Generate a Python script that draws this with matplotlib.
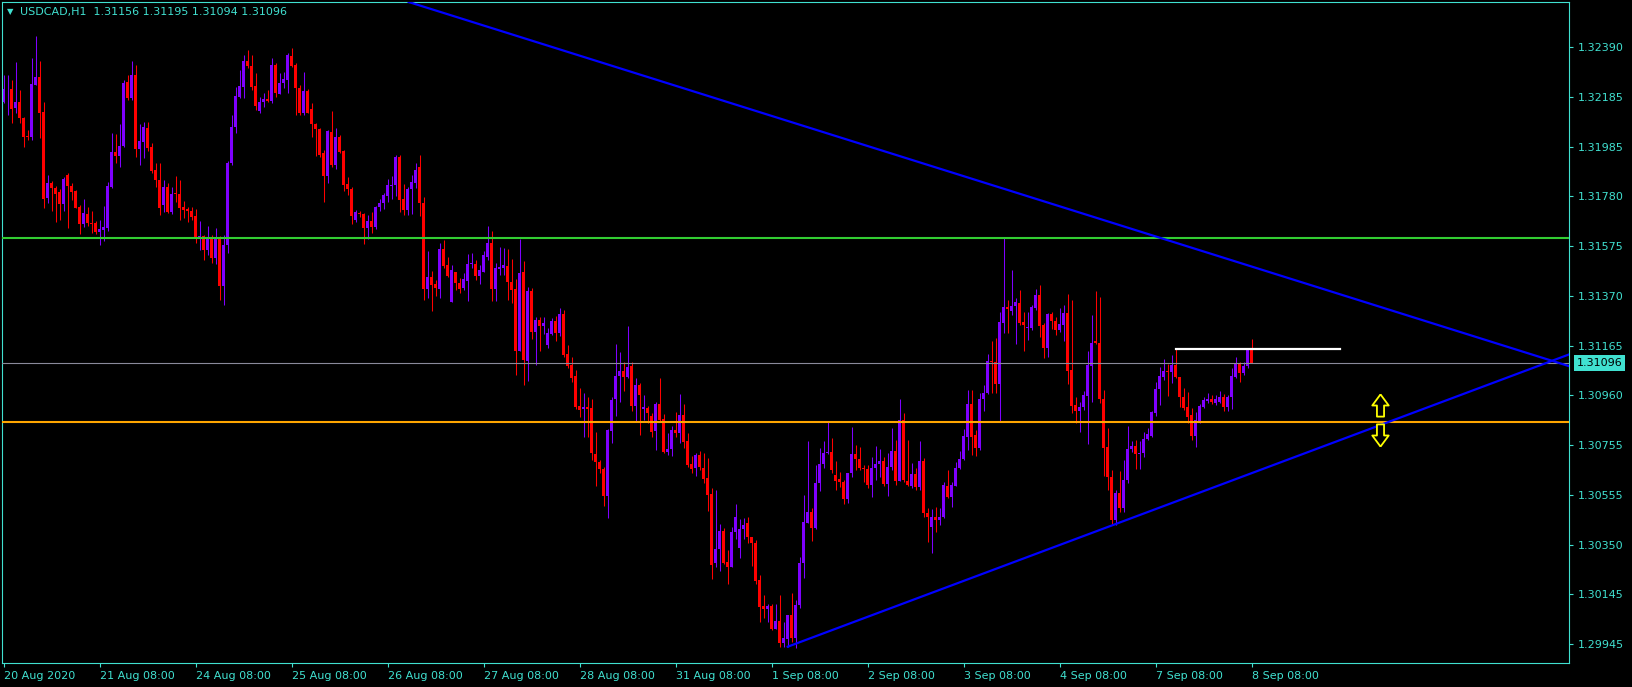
import numpy as np
import matplotlib
matplotlib.use("Agg")
import matplotlib.pyplot as plt
from matplotlib.path import Path

# USDCAD H1, 20 Aug 2020 08:00 .. 8 Sep 2020 08:00 (one value per hourly bar)
opens = [
    1.32166, 1.32217, 1.32220, 1.32141, 1.32166, 1.32100, 1.32026, 1.32021, 1.32234, 1.32266,
    1.32123, 1.31773, 1.31833, 1.31814, 1.31797, 1.31748, 1.31866, 1.31821, 1.31800, 1.31735,
    1.31666, 1.31706, 1.31669, 1.31669, 1.31634, 1.31641, 1.31650, 1.31818, 1.31959, 1.31945,
    1.31986, 1.32248, 1.32182, 1.32274, 1.31972, 1.32002, 1.32060, 1.31980, 1.31887, 1.31844,
    1.31743, 1.31815, 1.31715, 1.31791, 1.31790, 1.31735, 1.31725, 1.31718, 1.31698, 1.31602,
    1.31616, 1.31559, 1.31609, 1.31527, 1.31609, 1.31412, 1.31579, 1.31914, 1.32064, 1.32186,
    1.32227, 1.32333, 1.32313, 1.32230, 1.32129, 1.32164, 1.32177, 1.32169, 1.32316, 1.32198,
    1.32241, 1.32255, 1.32353, 1.32316, 1.32221, 1.32121, 1.32211, 1.32136, 1.32073, 1.32055,
    1.31957, 1.31863, 1.32042, 1.31907, 1.32023, 1.31964, 1.31830, 1.31808, 1.31681, 1.31711,
    1.31706, 1.31650, 1.31677, 1.31652, 1.31736, 1.31750, 1.31781, 1.31822, 1.31824, 1.31941,
    1.31766, 1.31722, 1.31808, 1.31834, 1.31900, 1.31752, 1.31399, 1.31448, 1.31419, 1.31399,
    1.31563, 1.31497, 1.31347, 1.31467, 1.31425, 1.31404, 1.31432, 1.31501, 1.31501, 1.31453,
    1.31470, 1.31530, 1.31587, 1.31399, 1.31481, 1.31486, 1.31493, 1.31429, 1.31399, 1.31145,
    1.31468, 1.31104, 1.31391, 1.31224, 1.31272, 1.31249, 1.31170, 1.31213, 1.31268, 1.31220,
    1.31297, 1.31133, 1.31088, 1.31043, 1.30920, 1.30906, 1.30916, 1.30912, 1.30723, 1.30690,
    1.30660, 1.30552, 1.30819, 1.30948, 1.31043, 1.31063, 1.31040, 1.31084, 1.30921, 1.31006,
    1.30907, 1.30912, 1.30879, 1.30819, 1.30928, 1.30865, 1.30733, 1.30742, 1.30821, 1.30808,
    1.30883, 1.30776, 1.30682, 1.30665, 1.30719, 1.30666, 1.30625, 1.30559, 1.30276, 1.30333,
    1.30408, 1.30281, 1.30262, 1.30405, 1.30339, 1.30414, 1.30439, 1.30382, 1.30359, 1.30207,
    1.30101, 1.30087, 1.30101, 1.30008, 1.30038, 1.29950, 1.29965, 1.30063, 1.29971, 1.30106,
    1.30276, 1.30442, 1.30484, 1.30421, 1.30603, 1.30681, 1.30726, 1.30731, 1.30637, 1.30621,
    1.30608, 1.30538, 1.30644, 1.30723, 1.30703, 1.30667, 1.30660, 1.30596, 1.30665, 1.30681,
    1.30696, 1.30600, 1.30669, 1.30737, 1.30614, 1.30862, 1.30613, 1.30593, 1.30641, 1.30587,
    1.30694, 1.30483, 1.30423, 1.30464, 1.30453, 1.30464, 1.30592, 1.30546, 1.30592, 1.30665,
    1.30701, 1.30794, 1.30927, 1.30801, 1.30747, 1.30948, 1.30972, 1.31104, 1.31100, 1.31011,
    1.31258, 1.31326, 1.31310, 1.31329, 1.31340, 1.31265, 1.31238, 1.31238, 1.31320, 1.31373,
    1.31251, 1.31159, 1.31297, 1.31269, 1.31231, 1.31251, 1.31302, 1.31067, 1.30924, 1.30900,
    1.30917, 1.30962, 1.31085, 1.31186, 1.31177, 1.30947, 1.30751, 1.30628, 1.30453, 1.30562,
    1.30502, 1.30617, 1.30744, 1.30756, 1.30723, 1.30728, 1.30783, 1.30798, 1.30892, 1.30988,
    1.31040, 1.31063, 1.31060, 1.31088, 1.31037, 1.30955, 1.30916, 1.30883, 1.30798, 1.30855,
    1.30917, 1.30940, 1.30947, 1.30933, 1.30937, 1.30955, 1.30917, 1.30955, 1.31037, 1.31095,
    1.31056, 1.31084, 1.31156,
]
highs = [
    1.32275, 1.32275, 1.32255, 1.32329, 1.32214, 1.32103, 1.32050, 1.32345, 1.32435, 1.32333,
    1.32165, 1.31866, 1.31841, 1.31821, 1.31808, 1.31859, 1.31874, 1.31833, 1.31804, 1.31743,
    1.31768, 1.31735, 1.31718, 1.31677, 1.31681, 1.31739, 1.31837, 1.32038, 1.32034, 1.32075,
    1.32255, 1.32275, 1.32333, 1.32316, 1.32075, 1.32084, 1.32084, 1.31996, 1.31914, 1.31915,
    1.31845, 1.31832, 1.31818, 1.31862, 1.31845, 1.31759, 1.31735, 1.31733, 1.31725, 1.31677,
    1.31620, 1.31657, 1.31620, 1.31649, 1.31616, 1.31620, 1.31923, 1.32111, 1.32227, 1.32296,
    1.32357, 1.32378, 1.32357, 1.32285, 1.32186, 1.32200, 1.32214, 1.32346, 1.32323, 1.32282,
    1.32289, 1.32364, 1.32385, 1.32324, 1.32234, 1.32289, 1.32217, 1.32159, 1.32079, 1.32057,
    1.31968, 1.32050, 1.32128, 1.32057, 1.32030, 1.31968, 1.31858, 1.31818, 1.31722, 1.31718,
    1.31711, 1.31702, 1.31714, 1.31740, 1.31769, 1.31793, 1.31848, 1.31862, 1.31948, 1.31948,
    1.31829, 1.31815, 1.31866, 1.31915, 1.31948, 1.31777, 1.31555, 1.31473, 1.31436, 1.31586,
    1.31600, 1.31530, 1.31497, 1.31468, 1.31444, 1.31464, 1.31542, 1.31546, 1.31518, 1.31497,
    1.31555, 1.31657, 1.31636, 1.31505, 1.31571, 1.31567, 1.31563, 1.31522, 1.31440, 1.31604,
    1.31514, 1.31407, 1.31403, 1.31284, 1.31284, 1.31284, 1.31239, 1.31280, 1.31288, 1.31321,
    1.31313, 1.31170, 1.31120, 1.31067, 1.30993, 1.30973, 1.30957, 1.30948, 1.30813, 1.30699,
    1.30671, 1.30824, 1.30957, 1.31174, 1.31141, 1.31100, 1.31247, 1.31100, 1.31034, 1.31015,
    1.30965, 1.30920, 1.30892, 1.30937, 1.31034, 1.30887, 1.30809, 1.30838, 1.30895, 1.30969,
    1.30928, 1.30809, 1.30715, 1.30728, 1.30735, 1.30727, 1.30707, 1.30584, 1.30576, 1.30436,
    1.30420, 1.30330, 1.30424, 1.30518, 1.30456, 1.30460, 1.30466, 1.30384, 1.30371, 1.30228,
    1.30146, 1.30109, 1.30109, 1.30109, 1.30146, 1.30035, 1.30064, 1.30154, 1.30125, 1.30301,
    1.30555, 1.30776, 1.30501, 1.30678, 1.30747, 1.30776, 1.30858, 1.30787, 1.30694, 1.30649,
    1.30617, 1.30647, 1.30832, 1.30760, 1.30753, 1.30678, 1.30678, 1.30712, 1.30756, 1.30744,
    1.30710, 1.30728, 1.30828, 1.30780, 1.30948, 1.30891, 1.30780, 1.30686, 1.30666, 1.30776,
    1.30707, 1.30502, 1.30498, 1.30507, 1.30502, 1.30610, 1.30658, 1.30610, 1.30692, 1.30737,
    1.30826, 1.30985, 1.30985, 1.30821, 1.30972, 1.31006, 1.31133, 1.31186, 1.31198, 1.31306,
    1.31611, 1.31354, 1.31477, 1.31361, 1.31395, 1.31306, 1.31305, 1.31333, 1.31398, 1.31415,
    1.31260, 1.31302, 1.31306, 1.31285, 1.31322, 1.31333, 1.31378, 1.31354, 1.30958, 1.30937,
    1.30982, 1.31146, 1.31292, 1.31391, 1.31367, 1.30985, 1.30828, 1.30658, 1.30576, 1.30654,
    1.30699, 1.30838, 1.30776, 1.30780, 1.30776, 1.30814, 1.30830, 1.30899, 1.31017, 1.31078,
    1.31112, 1.31092, 1.31129, 1.31153, 1.31040, 1.30992, 1.30978, 1.30910, 1.30896, 1.30928,
    1.30958, 1.30972, 1.30965, 1.30965, 1.30981, 1.30968, 1.30965, 1.31077, 1.31122, 1.31101,
    1.31101, 1.31156, 1.31195,
]
lows = [
    1.32161, 1.32111, 1.32079, 1.32120, 1.32079, 1.31980, 1.32009, 1.32009, 1.32234, 1.32019,
    1.31731, 1.31752, 1.31718, 1.31673, 1.31681, 1.31718, 1.31650, 1.31763, 1.31731, 1.31625,
    1.31654, 1.31657, 1.31628, 1.31624, 1.31579, 1.31597, 1.31638, 1.31813, 1.31915, 1.31900,
    1.31982, 1.32173, 1.32173, 1.31938, 1.31907, 1.31935, 1.31965, 1.31873, 1.31818, 1.31702,
    1.31715, 1.31709, 1.31706, 1.31756, 1.31681, 1.31688, 1.31675, 1.31681, 1.31589, 1.31559,
    1.31518, 1.31537, 1.31505, 1.31500, 1.31354, 1.31333, 1.31545, 1.31907, 1.32037, 1.32180,
    1.32180, 1.32303, 1.32214, 1.32132, 1.32118, 1.32146, 1.32166, 1.32159, 1.32186, 1.32196,
    1.32221, 1.32200, 1.32309, 1.32111, 1.32111, 1.32111, 1.32118, 1.32020, 1.31944, 1.31941,
    1.31756, 1.31834, 1.31900, 1.31889, 1.31955, 1.31801, 1.31784, 1.31665, 1.31675, 1.31695,
    1.31583, 1.31602, 1.31629, 1.31645, 1.31720, 1.31727, 1.31756, 1.31766, 1.31780, 1.31715,
    1.31702, 1.31702, 1.31705, 1.31811, 1.31699, 1.31354, 1.31361, 1.31309, 1.31370, 1.31363,
    1.31484, 1.31447, 1.31345, 1.31395, 1.31383, 1.31395, 1.31350, 1.31485, 1.31436, 1.31419,
    1.31468, 1.31518, 1.31350, 1.31350, 1.31456, 1.31456, 1.31354, 1.31342, 1.31047, 1.31145,
    1.31006, 1.31022, 1.31194, 1.31088, 1.31145, 1.31215, 1.31157, 1.31211, 1.31186, 1.31206,
    1.31120, 1.31075, 1.31018, 1.30907, 1.30875, 1.30793, 1.30793, 1.30699, 1.30592, 1.30647,
    1.30510, 1.30462, 1.30768, 1.30879, 1.30936, 1.30981, 1.31034, 1.30899, 1.30855, 1.30801,
    1.30862, 1.30850, 1.30794, 1.30740, 1.30855, 1.30727, 1.30719, 1.30715, 1.30793, 1.30768,
    1.30748, 1.30671, 1.30647, 1.30634, 1.30658, 1.30604, 1.30491, 1.30211, 1.30262, 1.30245,
    1.30273, 1.30191, 1.30259, 1.30374, 1.30298, 1.30374, 1.30357, 1.30266, 1.30191, 1.30036,
    1.30050, 1.30036, 1.30002, 1.30005, 1.29934, 1.29934, 1.29934, 1.29954, 1.29930, 1.30094,
    1.30217, 1.30442, 1.30367, 1.30414, 1.30573, 1.30665, 1.30723, 1.30647, 1.30576, 1.30588,
    1.30518, 1.30524, 1.30630, 1.30658, 1.30658, 1.30610, 1.30585, 1.30548, 1.30617, 1.30628,
    1.30592, 1.30551, 1.30658, 1.30596, 1.30613, 1.30608, 1.30592, 1.30584, 1.30576, 1.30576,
    1.30465, 1.30364, 1.30319, 1.30405, 1.30432, 1.30460, 1.30542, 1.30507, 1.30592, 1.30662,
    1.30699, 1.30740, 1.30719, 1.30715, 1.30740, 1.30900, 1.30968, 1.30972, 1.30972, 1.30860,
    1.31217, 1.31219, 1.31292, 1.31174, 1.31251, 1.31146, 1.31190, 1.31231, 1.31313, 1.31204,
    1.31115, 1.31122, 1.31235, 1.31211, 1.31224, 1.31187, 1.31009, 1.30890, 1.30851, 1.30814,
    1.30903, 1.30764, 1.30937, 1.31174, 1.30933, 1.30634, 1.30576, 1.30436, 1.30432, 1.30486,
    1.30486, 1.30603, 1.30731, 1.30660, 1.30660, 1.30712, 1.30780, 1.30794, 1.30880, 1.30924,
    1.31026, 1.30962, 1.31013, 1.31036, 1.30917, 1.30903, 1.30849, 1.30780, 1.30751, 1.30850,
    1.30912, 1.30932, 1.30928, 1.30924, 1.30932, 1.30900, 1.30900, 1.30906, 1.31034, 1.31019,
    1.31047, 1.31074, 1.31094,
]
closes = [
    1.32217, 1.32220, 1.32136, 1.32166, 1.32100, 1.32023, 1.32021, 1.32238, 1.32266, 1.32118,
    1.31768, 1.31833, 1.31814, 1.31789, 1.31748, 1.31849, 1.31822, 1.31797, 1.31732, 1.31666,
    1.31709, 1.31669, 1.31667, 1.31634, 1.31645, 1.31652, 1.31821, 1.31959, 1.31944, 1.31986,
    1.32243, 1.32182, 1.32274, 1.31972, 1.32005, 1.32062, 1.31975, 1.31882, 1.31844, 1.31732,
    1.31815, 1.31715, 1.31788, 1.31787, 1.31732, 1.31722, 1.31718, 1.31695, 1.31602, 1.31616,
    1.31559, 1.31609, 1.31527, 1.31609, 1.31412, 1.31579, 1.31914, 1.32064, 1.32189, 1.32230,
    1.32333, 1.32313, 1.32225, 1.32148, 1.32166, 1.32177, 1.32169, 1.32316, 1.32203, 1.32241,
    1.32259, 1.32357, 1.32313, 1.32221, 1.32121, 1.32211, 1.32121, 1.32073, 1.32053, 1.31948,
    1.31863, 1.32046, 1.31907, 1.32023, 1.31961, 1.31825, 1.31807, 1.31699, 1.31714, 1.31705,
    1.31650, 1.31677, 1.31652, 1.31733, 1.31750, 1.31784, 1.31824, 1.31825, 1.31941, 1.31763,
    1.31722, 1.31808, 1.31837, 1.31886, 1.31752, 1.31399, 1.31448, 1.31415, 1.31404, 1.31563,
    1.31493, 1.31452, 1.31477, 1.31425, 1.31399, 1.31440, 1.31501, 1.31504, 1.31453, 1.31477,
    1.31537, 1.31587, 1.31399, 1.31485, 1.31489, 1.31497, 1.31429, 1.31395, 1.31145, 1.31464,
    1.31108, 1.31391, 1.31224, 1.31272, 1.31249, 1.31258, 1.31217, 1.31268, 1.31220, 1.31297,
    1.31129, 1.31085, 1.31036, 1.30916, 1.30903, 1.30914, 1.30909, 1.30726, 1.30692, 1.30660,
    1.30552, 1.30821, 1.30944, 1.31043, 1.31063, 1.31040, 1.31079, 1.30920, 1.31006, 1.30965,
    1.30916, 1.30890, 1.30814, 1.30928, 1.30862, 1.30733, 1.30742, 1.30821, 1.30808, 1.30883,
    1.30774, 1.30678, 1.30662, 1.30718, 1.30669, 1.30622, 1.30555, 1.30269, 1.30333, 1.30408,
    1.30276, 1.30259, 1.30404, 1.30464, 1.30416, 1.30431, 1.30382, 1.30357, 1.30204, 1.30098,
    1.30087, 1.30101, 1.30008, 1.30038, 1.29949, 1.29970, 1.30063, 1.29971, 1.30103, 1.30276,
    1.30443, 1.30484, 1.30421, 1.30603, 1.30681, 1.30726, 1.30731, 1.30658, 1.30614, 1.30607,
    1.30538, 1.30644, 1.30723, 1.30701, 1.30667, 1.30660, 1.30596, 1.30665, 1.30682, 1.30696,
    1.30600, 1.30669, 1.30737, 1.30614, 1.30862, 1.30617, 1.30596, 1.30641, 1.30587, 1.30694,
    1.30483, 1.30464, 1.30464, 1.30453, 1.30464, 1.30595, 1.30546, 1.30595, 1.30665, 1.30701,
    1.30797, 1.30927, 1.30794, 1.30749, 1.30948, 1.30972, 1.31104, 1.31100, 1.31011, 1.31264,
    1.31324, 1.31316, 1.31329, 1.31347, 1.31261, 1.31251, 1.31245, 1.31324, 1.31373, 1.31249,
    1.31159, 1.31297, 1.31269, 1.31231, 1.31254, 1.31302, 1.31063, 1.30920, 1.30900, 1.30914,
    1.30965, 1.31088, 1.31177, 1.31177, 1.30947, 1.30749, 1.30628, 1.30453, 1.30562, 1.30502,
    1.30617, 1.30742, 1.30756, 1.30723, 1.30728, 1.30783, 1.30805, 1.30894, 1.30989, 1.31043,
    1.31063, 1.31060, 1.31088, 1.31037, 1.30955, 1.30912, 1.30876, 1.30798, 1.30862, 1.30920,
    1.30944, 1.30947, 1.30937, 1.30947, 1.30955, 1.30917, 1.30955, 1.31043, 1.31095, 1.31056,
    1.31084, 1.31149, 1.31096,
]

date_labels = ["20 Aug 2020", "21 Aug 08:00", "24 Aug 08:00", "25 Aug 08:00", "26 Aug 08:00",
               "27 Aug 08:00", "28 Aug 08:00", "31 Aug 08:00", "1 Sep 08:00", "2 Sep 08:00",
               "3 Sep 08:00", "4 Sep 08:00", "7 Sep 08:00", "8 Sep 08:00"]
bars_per_label = 24
price_labels = ["1.29945", "1.30145", "1.30350", "1.30555", "1.30755", "1.30960", "1.31165",
                "1.31370", "1.31575", "1.31780", "1.31985", "1.32185", "1.32390"]

# objects drawn on the chart (bar index, price)
green_level = 1.31609
orange_level = 1.30855
white_line = (293, 334, 1.31153)
desc_line = [(101.3, 1.32574), (391.3, 1.31083)]
asc_line = [(196, 1.29934), (391, 1.31129)]
arrow_up = (344, 1.30922)
arrow_down = (344, 1.30800)

TURQ = "#40E0D0"
BULL = "#7F00FF"
BEAR = "#FF0000"

o = np.array(opens); h = np.array(highs); l = np.array(lows); c = np.array(closes)
x = np.arange(len(c))
cols = np.where(c >= o, BULL, BEAR)

W, H = 1633, 687
fig = plt.figure(figsize=(W / 100, H / 100), dpi=100, facecolor="black")
ax = fig.add_axes([2 / W, 24 / H, 1567 / W, 661 / H])
ax.set_facecolor("black")

# candles
ax.vlines(x, l, h, colors=cols, linewidth=0.75, zorder=2)
body_lo = np.minimum(o, c)
body_h = np.maximum(np.abs(c - o), 0.00003)
ax.bar(x, body_h, bottom=body_lo, width=0.72, color=cols, linewidth=0, zorder=2)

# levels
ax.axhline(green_level, color="#32CD32", lw=1.5, zorder=3)
ax.axhline(orange_level, color="#FFA500", lw=1.5, zorder=3)
ax.axhline(c[-1], color="#8A8A9A", lw=0.8, zorder=3)
ax.plot([white_line[0], white_line[1]], [white_line[2], white_line[2]], color="white", lw=1.6, zorder=3)

# trend lines
ax.axline(desc_line[0], desc_line[1], color="#0000FF", lw=1.6, zorder=4)
(ax0, ay0), (ax1, ay1) = asc_line
x_end = 400
ax.plot([ax0, x_end], [ay0, ay0 + (ay1 - ay0) / (ax1 - ax0) * (x_end - ax0)],
        color="#0000FF", lw=1.6, zorder=4)

# up / down arrows
up = Path([(0, 0.5), (0.37, 0.0), (0.16, 0.0), (0.16, -0.5), (-0.16, -0.5),
           (-0.16, 0.0), (-0.37, 0.0), (0, 0.5)])
down = Path([(vx, -vy) for vx, vy in up.vertices])
ax.plot(*arrow_up, marker=up, ms=16, mfc="black", mec="#FFFF00", mew=1.3, zorder=5)
ax.plot(*arrow_down, marker=down, ms=16, mfc="black", mec="#FFFF00", mew=1.3, zorder=5)

ax.set_xlim(-0.425, 391.3)
ax.set_ylim(1.298672, 1.325743)

ax.set_xticks(np.arange(len(date_labels)) * bars_per_label)
ax.set_xticklabels(date_labels)
for t in ax.get_xticklabels():
    t.set_horizontalalignment("left")
ax.set_yticks(np.linspace(1.29945, 1.32390, len(price_labels)))
ax.set_yticklabels(price_labels)
ax.yaxis.tick_right()
ax.tick_params(axis="x", colors=TURQ, labelsize=8, length=3, width=0.8, pad=3)
ax.tick_params(axis="y", colors=TURQ, labelsize=8, length=3, width=0.8, pad=3)
for s in ax.spines.values():
    s.set_color(TURQ)
    s.set_linewidth(0.8)

# current price tag
ax.annotate(f"{c[-1]:.5f}", xy=(1, c[-1]), xycoords=("axes fraction", "data"),
            xytext=(5.5, 0), textcoords="offset points", va="center", ha="left",
            fontsize=8, color="black", annotation_clip=False, zorder=6,
            bbox=dict(boxstyle="square,pad=0.25", fc=TURQ, ec="none"))

# header
fig.text(10 / W, 1 - 12 / H, "\u25BC", fontsize=6, color=TURQ, ha="center", va="center")
fig.text(20 / W, 1 - 12 / H,
         f"USDCAD,H1  {o[-1]:.5f} {h[-1]:.5f} {l[-1]:.5f} {c[-1]:.5f}",
         fontsize=8, color=TURQ, ha="left", va="center")

fig.savefig("out.png", dpi=100, facecolor="black")
